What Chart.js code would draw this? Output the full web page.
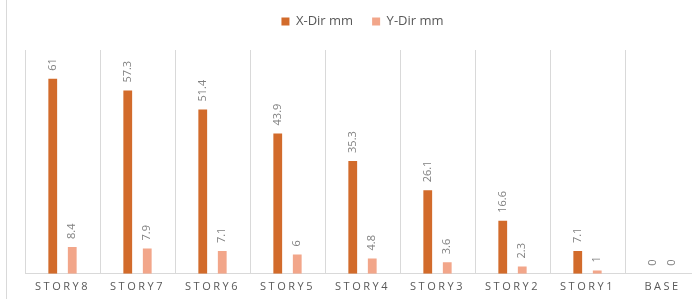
<!DOCTYPE html>
<html>
<head>
<meta charset="utf-8">
<script src="https://cdn.jsdelivr.net/npm/chart.js@4.4.1/dist/chart.umd.min.js"></script>
<style>
  html, body { margin: 0; padding: 0; background: #fff; overflow: hidden; }
  #wrap { position: relative; width: 692px; height: 299px; overflow: hidden; }
  #chart { position: absolute; left: 0; top: 0; }
  #edge { position: absolute; left: 6px; top: 0; height: 299px; border-left: 1px solid #d9d9d9; }
</style>
</head>
<body>
<div id="wrap">
  <canvas id="chart" width="732" height="299"></canvas>
  <div id="edge"></div>
</div>
<script>
const stories = ["STORY8", "STORY7", "STORY6", "STORY5", "STORY4", "STORY3", "STORY2", "STORY1", "BASE"];
const xDir = [61, 57.3, 51.4, 43.9, 35.3, 26.1, 16.6, 7.1, 0];
const yDir = [8.4, 7.9, 7.1, 6, 4.8, 3.6, 2.3, 1, 0];

const fontFamily = '"Open Sans", "Liberation Sans", sans-serif';

// rotated value labels above each bar
const barLabels = {
    id: "barLabels",
    afterDatasetsDraw(chart) {
        const ctx = chart.ctx;
        chart.data.datasets.forEach((ds, i) => {
            const meta = chart.getDatasetMeta(i);
            meta.data.forEach((bar, j) => {
                ctx.save();
                ctx.translate(bar.x, bar.y - 8);
                ctx.rotate(-Math.PI / 2);
                ctx.font = "11px " + fontFamily;
                ctx.fillStyle = "#808080";
                ctx.textAlign = "left";
                ctx.textBaseline = "middle";
                ctx.fillText(String(ds.data[j]), 0, 0);
                ctx.restore();
            });
        });
    },
};

// spaced out category labels + extra room under the legend
const tweaks = {
    id: "tweaks",
    beforeLayout(chart) {
        const lg = chart.legend;
        if (lg && !lg._patched) {
            const fit = lg.fit;
            lg.fit = function () {
                fit.call(this);
                this.height += 12;
            };
            lg._patched = true;
        }
    },
    afterLayout(chart) {
        const sc = chart.scales.x;
        if (sc && !sc._patched) {
            const drawLabels = sc.drawLabels;
            sc.drawLabels = function (area) {
                chart.ctx.save();
                chart.ctx.letterSpacing = "2.5px";
                drawLabels.call(this, area);
                chart.ctx.restore();
            };
            sc._patched = true;
        }
    },
};

new Chart(document.getElementById("chart").getContext("2d"), {
    type: "bar",
    data: {
        labels: stories,
        datasets: [
            {
                label: "X-Dir mm",
                data: xDir,
                backgroundColor: "#d26b2b",
                categoryPercentage: 0.52,
                barPercentage: 0.45,
            },
            {
                label: "Y-Dir mm",
                data: yDir,
                backgroundColor: "#f2a68a",
                categoryPercentage: 0.52,
                barPercentage: 0.45,
            },
        ],
    },
    options: {
        responsive: false,
        animation: false,
        devicePixelRatio: 1,
        layout: {
            padding: { left: 25, right: 32, top: -4, bottom: 0 },
        },
        plugins: {
            legend: {
                position: "top",
                labels: {
                    boxWidth: 8,
                    boxHeight: 8,
                    padding: 19,
                    color: "#595959",
                    font: { size: 13, family: fontFamily },
                },
            },
            tooltip: { enabled: false },
        },
        scales: {
            x: {
                grid: {
                    color: "#d9d9d9",
                    drawTicks: false,
                    offset: true,
                },
                border: { display: true, color: "#d9d9d9" },
                ticks: {
                    color: "#595959",
                    padding: 6,
                    font: { size: 11, family: fontFamily },
                    maxRotation: 0,
                },
            },
            y: {
                display: false,
                min: 0,
                max: 70,
            },
        },
    },
    plugins: [barLabels, tweaks],
});
</script>
</body>
</html>
